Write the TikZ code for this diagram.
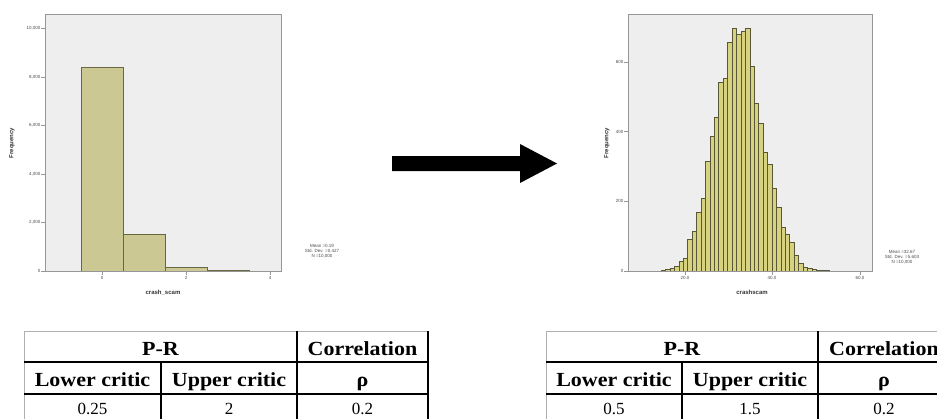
\documentclass[tikz,border=0pt]{standalone}
\usepackage{fontspec}
\setmainfont{Liberation Serif}
\setsansfont{Liberation Sans}
\newfontfamily\tabfont[FakeStretch=1.1]{Liberation Serif}
\newfontfamily\numfont{Liberation Serif}
\usetikzlibrary{calc}
\definecolor{plotbg}{RGB}{238,238,238}
\definecolor{framegrey}{RGB}{150,150,150}
\definecolor{barfillA}{RGB}{204,200,148}
\definecolor{baredgeA}{RGB}{105,103,66}
\definecolor{barfillB}{RGB}{214,210,128}
\definecolor{baredgeB}{RGB}{88,88,55}
\definecolor{bordergrey}{RGB}{175,175,175}
\tikzset{
  axisframe/.style={draw=framegrey, line width=0.8},
  tickmark/.style={draw=framegrey, line width=0.6},
  barA/.style={fill=barfillA, draw=baredgeA, line width=0.8},
  barB/.style={fill=barfillB, draw=baredgeB, line width=0.45},
  ticklab/.style={font=\sffamily\fontsize{4.5}{5}\selectfont, text=black!70, inner sep=0.5pt},
  axtitle/.style={font=\sffamily\bfseries\fontsize{6}{7}\selectfont, text=black!80, inner sep=0},
  stat/.style={font=\sffamily\fontsize{4.5}{5}\selectfont, align=center, inner sep=0, text=black!70},
  hdr/.style={font=\tabfont\bfseries\fontsize{20}{24}\selectfont, anchor=base, inner sep=0},
  num/.style={font=\numfont\fontsize{17}{20}\selectfont, anchor=base, inner sep=0},
  tline/.style={line width=1.3, draw=black},
  tborder/.style={line width=1, draw=bordergrey},
}
\begin{document}
\begin{tikzpicture}[x=1pt,y=-1pt]
\useasboundingbox (0,0) rectangle (937,418);
\clip (0,0) rectangle (937,418);

% ---------------- left histogram ----------------
\fill[plotbg] (45,14) rectangle (281,271);
\foreach \v/\c in {-0.5/8400, 0.5/1500, 1.5/150, 2.5/12}
  \draw[barA] ({102+42*\v},271) rectangle ({102+42*(\v+1)},{271-\c*0.02425});
\draw[axisframe] (45,14) rectangle (281,271);
\foreach \v/\l [count=\i] in {0/0, 2000/{2,000}, 4000/{4,000}, 6000/{6,000}, 8000/{8,000}, 10000/{10,000}} {
  \draw[tickmark] (41,{271-\v*0.02425}) -- (45,{271-\v*0.02425});
  \node[ticklab, anchor=east] (ly\i) at (41,{271-\v*0.02425}) {\l};
}
\foreach \v [count=\i] in {0,2,4} {
  \draw[tickmark] ({102+42*\v},271) -- ({102+42*\v},275);
  \node[ticklab, anchor=north] (lx\i) at ({102+42*\v},276) {\v};
}
\node[axtitle, rotate=90] (lytitle) at (12,143) {Frequency};
\node[axtitle] (lxtitle) at (163,293) {crash\_scam};
\node[stat] (lstat) at (322,251) {Mean =0.19\\Std. Dev. =0.427\\N =10,000};

% ---------------- arrow ----------------
\coordinate (arrS) at (392,163.5);
\coordinate (arrT) at (557,163.5);
\fill[black] ($(arrS)+(0,-7.5)$) -- (520,156) -- (520,144) -- (arrT) -- (520,183) -- (520,171) -- ($(arrS)+(0,7.5)$) -- cycle;

% ---------------- right histogram ----------------
\fill[plotbg] (628,14) rectangle (872,271);
\foreach \k/\c in {-6/2,-5/4,-4/8,-3/14,-2/28,-1/36,0/90,1/113,2/169,3/210,4/315,5/386,6/441,7/541,8/554,9/658,10/698,11/679,12/688,13/698,14/589,15/482,16/424,17/342,18/306,19/238,20/184,21/126,22/107,23/83,24/44,25/22,26/12,27/8,28/5,29/3,30/2,31/1}
  \draw[barB] ({687.7+4.43*\k},271) rectangle ({687.7+4.43*(\k+1)},{271-\c*0.3483});
\draw[axisframe] (628,14) rectangle (872,271);
\foreach \v [count=\i] in {0,200,400,600} {
  \draw[tickmark] (624,{271-\v*0.3483}) -- (628,{271-\v*0.3483});
  \node[ticklab, anchor=east] (ry\i) at (624,{271-\v*0.3483}) {\v};
}
\foreach \x/\l [count=\i] in {685/20.0, 772/40.0, 860/60.0} {
  \draw[tickmark] (\x,271) -- (\x,275);
  \node[ticklab, anchor=north] (rx\i) at (\x,276) {\l};
}
\node[axtitle, rotate=90] (rytitle) at (607,143) {Frequency};
\node[axtitle] (rxtitle) at (752,292) {crashscam};
\node[stat] (rstat) at (902,257) {Mean =32.67\\Std. Dev. =5.603\\N =10,000};

% ---------------- tables ----------------
\foreach \t/\a/\b/\c/\d/\nA/\nB/\nC in {L/24/161/297/428/0.25/2/0.2, R/546/682/818/950/0.5/1.5/0.2} {
  \draw[tborder] (\a,331) -- (\d,331);
  \draw[tborder] (\a,331) -- (\a,430);
  \draw[tline] (\a,362) -- (\d,362);
  \draw[tline] (\a,394) -- (\d,394);
  \draw[tline] (\b,362) -- (\b,430);
  \draw[tline] (\c,331) -- (\c,430);
  \draw[tline] (\d,331) -- (\d,430);
  \node[hdr] (pr\t) at ({(\a+\c)/2},355) {P-R};
  \node[hdr] (corr\t) at ({(\c+\d)/2},355) {Correlation};
  \node[hdr] (low\t) at ({(\a+\b)/2},386) {Lower critic};
  \node[hdr] (up\t) at ({(\b+\c)/2},386) {Upper critic};
  \node[hdr] (rho\t) at ({(\c+\d)/2},386) {ρ};
  \node[num] (vA\t) at ({(\a+\b)/2},414.5) {\nA};
  \node[num] (vB\t) at ({(\b+\c)/2},414.5) {\nB};
  \node[num] (vC\t) at ({(\c+\d)/2},414.5) {\nC};
}
\end{tikzpicture}
\end{document}
